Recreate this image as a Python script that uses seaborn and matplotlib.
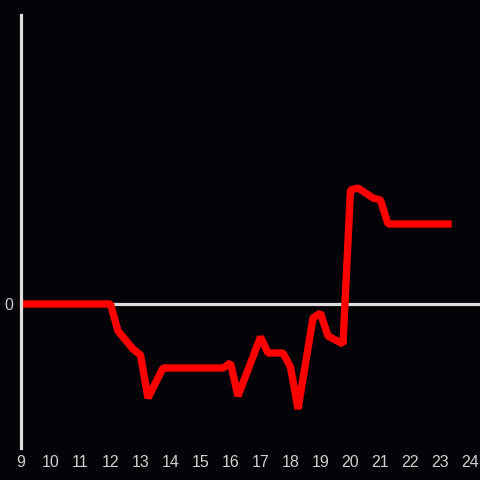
import pandas as pd
import matplotlib.pyplot as plt
import seaborn as sns

# hour of day and value
hours = [9.0, 12.0, 12.25, 12.75, 13.0, 13.25, 13.75, 15.75, 16.0, 16.25,
         17.0, 17.25, 17.75, 18.0, 18.25, 18.75, 19.0, 19.25, 19.75, 20.0,
         20.25, 20.75, 21.0, 21.25, 23.25]
values = [0.0, 0.0, -2.7, -4.5, -5.1, -9.4, -6.4, -6.4, -5.9, -9.2,
          -3.3, -4.9, -4.9, -6.3, -10.5, -1.4, -0.9, -3.2, -4.0, 11.4,
          11.6, 10.6, 10.4, 8.0, 8.0]
x_ticks = list(range(9, 25))

df = pd.DataFrame({"hour": hours, "value": values})

plt.rcParams["font.family"] = ["Liberation Sans", "DejaVu Sans"]

bg = "#040307"
fig = plt.figure(figsize=(4.8, 4.8), dpi=100, facecolor=bg)
ax = fig.add_axes([20.5 / 480, 32 / 480, 460 / 480, 433 / 480])
ax.set_facecolor(bg)

ax.axhline(0, color="#dddddd", lw=2.3, zorder=1)
sns.lineplot(data=df, x="hour", y="value", ax=ax, color="#ff0000",
             lw=5.3, zorder=2)
for ln in ax.lines[1:]:
    ln.set_solid_joinstyle("bevel")
    ln.set_solid_capstyle("projecting")

ax.set_xlim(9, 9 + 460 / 30)
ax.set_ylim(-14.4, 28.9)
ax.set_xticks(x_ticks)
ax.set_xticklabels([str(t) for t in x_ticks])
ax.set_yticks([0])
ax.set_yticklabels(["0"])
ax.tick_params(colors="#cccccc", labelsize=11.5, length=0, pad=5)
for lab in ax.get_xticklabels() + ax.get_yticklabels():
    lab.set_color("#d0d0d0")
ax.set_xlabel("")
ax.set_ylabel("")

for side in ["top", "right", "bottom"]:
    ax.spines[side].set_visible(False)
ax.spines["left"].set_color("#dddddd")
ax.spines["left"].set_linewidth(2.3)
ax.spines["left"].set_zorder(3)

fig.savefig("out.png", dpi=100, facecolor=bg)
